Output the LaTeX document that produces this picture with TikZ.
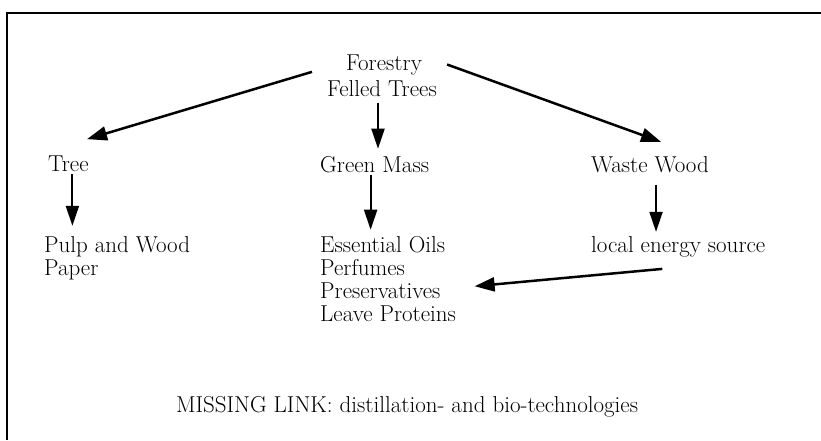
\documentclass[tikz,border=0pt]{standalone}
\usepackage{fontspec}
\usetikzlibrary{arrows.meta,calc}
\begin{document}
\begin{tikzpicture}[x=1pt,y=-1pt,
  txt/.style={inner sep=0pt, font=\fontsize{23}{24}\selectfont},
  arr/.style={line width=2.5pt, -{Triangle[length=20pt,width=14pt]}},
  darr/.style={line width=2pt, -{Triangle[length=20pt,width=13pt]}}]
\useasboundingbox (0,0) rectangle (821,440);
\draw[line width=2.7pt] (7,440) -- (7,13) -- (821,13);
\node[txt, anchor=base] (forestry) at (384,70) {Forestry};
\node[txt, anchor=base] (felled) at (382,96) {Felled Trees};
\node[txt, anchor=base west] (tree) at (48,171) {Tree};
\node[txt, anchor=base west] (green) at (320,172) {Green Mass};
\node[txt, anchor=base west] (waste) at (591,172) {Waste Wood};
\node[txt, anchor=base west] (pulp) at (44,252) {Pulp and Wood};
\node[txt, anchor=base west] (paper) at (44,275) {Paper};
\node[txt, anchor=base west] (ess) at (320,252) {Essential Oils};
\node[txt, anchor=base west] (perf) at (320,275) {Perfumes};
\node[txt, anchor=base west] (pres) at (320,298) {Preservatives};
\node[txt, anchor=base west] (leave) at (320,321) {Leave Proteins};
\node[txt, anchor=base west] (local) at (591,252) {local energy source};
\node[txt, anchor=base] (missing) at (407,412) {MISSING LINK: distillation- and bio-technologies};
\draw[arr] ($(felled.north west)+(-15,-8)$) -- ($(tree.north west)+(39,-16)$);
\draw[arr] ($(forestry.east)+(25,0)$) -- ($(waste.north)+(11,-14)$);
\draw[darr] ($(felled.south)+(-4,7)$) -- ($(felled.south |- green.north)+(-4,-7)$);
\draw[darr] ($(tree.south)+(4,3)$) -- ($(tree.south |- pulp.north)+(4,-10)$);
\draw[darr] ($(green.south)+(-4,2)$) -- ($(green.south |- ess.north)+(-4,-6)$);
\draw[darr] ($(waste.south)+(6,12)$) -- ($(waste.south |- local.north)+(6,-4)$);
\draw[arr] ($(local.south)+(-16,12)$) -- ($(pres.east)+(34,-4)$);
\end{tikzpicture}
\end{document}
